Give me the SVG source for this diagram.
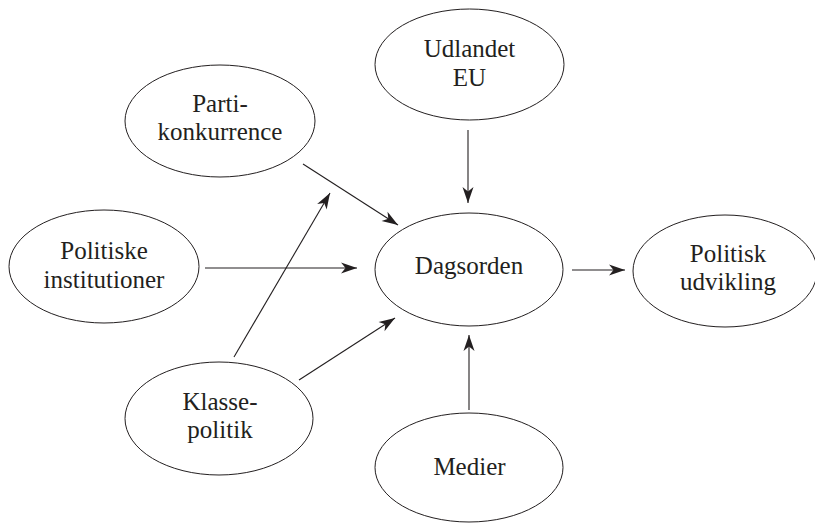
<svg xmlns="http://www.w3.org/2000/svg" width="815" height="523" viewBox="0 0 815 523">
<style>
.node ellipse{fill:#fff;stroke:#231f20;stroke-width:1}
.node text{font-family:"Liberation Serif","Times New Roman",serif;font-size:25px;fill:#231f20;text-anchor:middle}
#connectors line{stroke:#231f20;stroke-width:1.1;marker-end:url(#arrow)}
</style>
<defs>
<marker id="arrow" markerUnits="userSpaceOnUse" viewBox="-17 -7 18 14" refX="0" refY="0" markerWidth="18" markerHeight="14" orient="auto">
<path d="M0,0 L-16,-5.5 L-11.5,0 L-16,5.5 Z" fill="#231f20"/>
</marker>
</defs>
<rect width="815" height="523" fill="#fff"/>
<g id="udlandet" class="node">
<ellipse cx="469.5" cy="64.5" rx="94.5" ry="55.5"/>
<text x="469.5" y="57">Udlandet</text>
<text x="469.5" y="85.5">EU</text>
</g>
<g id="partikonkurrence" class="node">
<ellipse cx="220" cy="121" rx="95" ry="56"/>
<text x="220" y="112">Parti-</text>
<text x="220" y="140">konkurrence</text>
</g>
<g id="politiske" class="node">
<ellipse cx="104" cy="266.5" rx="95" ry="56.5"/>
<text x="104" y="259">Politiske</text>
<text x="104" y="287.5">institutioner</text>
</g>
<g id="dagsorden" class="node">
<ellipse cx="469" cy="269.5" rx="94" ry="56.5"/>
<text x="469" y="274">Dagsorden</text>
</g>
<g id="politisk-udvikling" class="node">
<ellipse cx="725" cy="271" rx="92" ry="56"/>
<text x="728" y="262">Politisk</text>
<text x="728" y="290">udvikling</text>
</g>
<g id="klassepolitik" class="node">
<ellipse cx="219" cy="418.5" rx="94" ry="56.5"/>
<text x="220" y="410">Klasse-</text>
<text x="220" y="438">politik</text>
</g>
<g id="medier" class="node">
<ellipse cx="469" cy="467.5" rx="94" ry="54.5"/>
<text x="469.5" y="475">Medier</text>
</g>
<g id="connectors">
<line x1="468" y1="130" x2="468" y2="203"/>
<line x1="303" y1="164" x2="398" y2="225"/>
<line x1="205" y1="268" x2="357" y2="268"/>
<line x1="234" y1="357" x2="330" y2="193"/>
<line x1="299" y1="380" x2="395" y2="318"/>
<line x1="469" y1="410" x2="469" y2="335"/>
<line x1="572" y1="270" x2="625" y2="270"/>
</g>
</svg>
